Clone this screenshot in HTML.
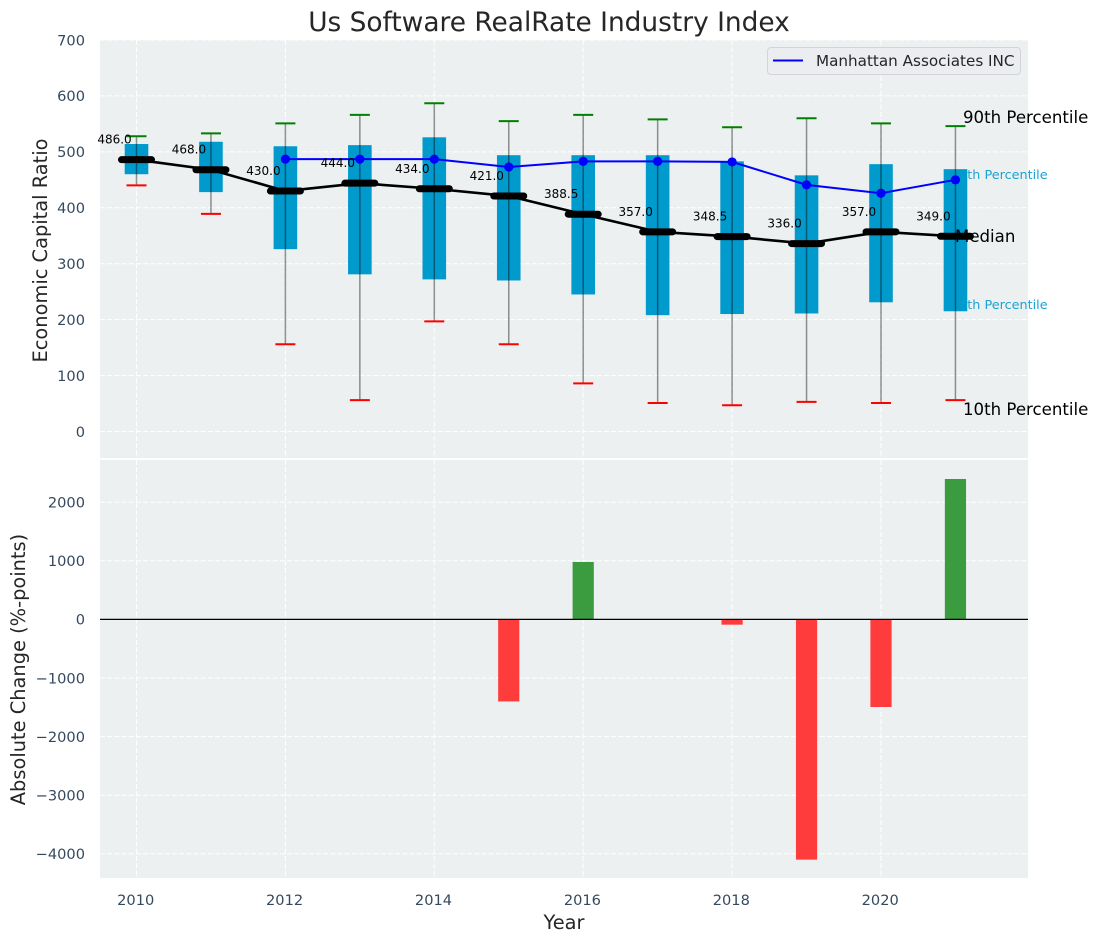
<!DOCTYPE html>
<html>
<head>
<meta charset="utf-8">
<title>Us Software RealRate Industry Index</title>
<style>
html,body{margin:0;padding:0;background:#fff;width:1098px;height:942px;overflow:hidden}
svg{display:block;font-family:"DejaVu Sans","Liberation Sans",sans-serif}
.tick{font-size:14.6px;fill:#34495e}
.axt{font-size:19.4px;fill:#262626}
</style>
</head>
<body>
<svg id="chart" width="1098" height="942" viewBox="0 0 1098 942" xmlns="http://www.w3.org/2000/svg">
  <rect x="0" y="0" width="1098" height="942" fill="#ffffff"/>
  <rect x="100" y="40" width="928" height="418" fill="#ecf0f1"/>
  <rect x="100" y="460" width="928" height="418" fill="#ecf0f1"/>
  <g id="grid"></g>
  <g id="bg-notes">
    <text x="951" y="179" font-size="12.8" fill="#1ba3d1">75th Percentile</text>
    <text x="951" y="309" font-size="12.8" fill="#1ba3d1">25th Percentile</text>
  </g>
  <g id="boxes"></g>
  <g id="whiskers"></g>
  <g id="company"></g>
  <g id="medians"></g>
  <g id="bars"></g>
  <line x1="100" x2="1028" y1="619.4" y2="619.4" stroke="#000" stroke-width="1.3"/>
  <g id="ticks"></g>
  <g>
    <rect x="767.5" y="47.5" width="253" height="27" rx="3.5" fill="#ebedf1" stroke="#d3d4d8" stroke-width="1"/>
    <line x1="773" x2="803" y1="60.5" y2="60.5" stroke="#0000ff" stroke-width="2"/>
    <text x="816" y="65.8" font-size="15.2" fill="#262626">Manhattan Associates INC</text>
  </g>
  <text x="963" y="123" font-size="16.6" fill="#000">90th Percentile</text>
  <text x="955" y="242" font-size="16.6" fill="#000">Median</text>
  <text x="963" y="415" font-size="16.6" fill="#000">10th Percentile</text>
  <text x="549" y="31" text-anchor="middle" font-size="26.4" fill="#262626">Us Software RealRate Industry Index</text>
  <text class="axt" transform="translate(47,250.5) rotate(-90)" text-anchor="middle">Economic Capital Ratio</text>
  <text class="axt" transform="translate(25,669.5) rotate(-90)" text-anchor="middle">Absolute Change (%-points)</text>
  <text class="axt" x="564" y="929" text-anchor="middle">Year</text>
</svg>
<script>
const years = [2010,2011,2012,2013,2014,2015,2016,2017,2018,2019,2020,2021];
const p90 = [528,533,551,566,587,555,566,558,544,560,551,546];
const p75 = [514,518,510,512,526,494,494,494,483,458,478,469];
const median = [486,468,430,444,434,421,388.5,357,348.5,336,357,349];
const p25 = [460,428,326,281,272,270,245,208,210,211,231,215];
const p10 = [440,389,156,56,197,156,86,51,47,53,51,56];
const companyYears = [2012,2013,2014,2015,2016,2017,2018,2019,2020,2021];
const company = [487,487,487,473,483,483,482,441,426,450];
const changeYears = [2015,2016,2018,2019,2020,2021];
const change = [-1400,980,-90,-4100,-1495,2396];
const xTicks = [2010,2012,2014,2016,2018,2020];
const topTicks = [0,100,200,300,400,500,600,700];
const bottomTicks = [-4000,-3000,-2000,-1000,0,1000,2000];

const NS = 'http://www.w3.org/2000/svg';
function xPos(year){ return 136.5 + (year - 2010) * 74.45; }
function yTop(v){ return 431.5 - v * 0.5593; }
function yBottom(v){ return 619.4 - v * 0.0586; }
function mk(parent, tag, attrs, txt){
  const el = document.createElementNS(NS, tag);
  for (const k in attrs) el.setAttribute(k, attrs[k]);
  if (txt !== undefined) el.textContent = txt;
  document.getElementById(parent).appendChild(el);
  return el;
}
function fmtTick(v){ return v < 0 ? '\u2212' + Math.abs(v) : String(v); }
const dash = '5 2.2';

// grid
xTicks.forEach(function(t){
  [[40,458],[460,878]].forEach(function(r){
    const el = mk('grid','line',{x1:xPos(t),x2:xPos(t),y1:r[0],y2:r[1],stroke:'#fff','stroke-width':1,'stroke-dasharray':dash});
    
    
  });
});
topTicks.forEach(function(t){
  const el = mk('grid','line',{x1:100,x2:1028,y1:yTop(t),y2:yTop(t),stroke:'#fff','stroke-width':1,'stroke-dasharray':dash});
  
  
});
bottomTicks.forEach(function(t){
  const el = mk('grid','line',{x1:100,x2:1028,y1:yBottom(t),y2:yBottom(t),stroke:'#fff','stroke-width':1,'stroke-dasharray':dash});
  
  
});

// boxes and whiskers
years.forEach(function(yr, i){
  const x = xPos(yr);
  const box = mk('boxes','rect',{x:x-11.8,width:23.6,y:yTop(p75[i]),height:yTop(p25[i])-yTop(p75[i]),fill:'#009acd'});
  
  
  const w = mk('whiskers','line',{x1:x,x2:x,y1:yTop(p90[i]),y2:yTop(p10[i]),stroke:'#000','stroke-opacity':0.42,'stroke-width':1.5});
  
  
  const c1 = mk('whiskers','line',{x1:x-10,x2:x+10,y1:yTop(p90[i]),y2:yTop(p90[i]),stroke:'#008000','stroke-width':2});
  
  
  const c2 = mk('whiskers','line',{x1:x-10,x2:x+10,y1:yTop(p10[i]),y2:yTop(p10[i]),stroke:'#ff0000','stroke-width':2});
  
  
});

// company line
const cl = mk('company','polyline',{points:companyYears.map(function(y,i){return xPos(y)+','+yTop(company[i]);}).join(' '),fill:'none',stroke:'#0000ff','stroke-width':2});


companyYears.forEach(function(y,i){
  const p = mk('company','circle',{cx:xPos(y),cy:yTop(company[i]),r:4.6,fill:'#0000ff'});
  
  
});

// median line, bars and labels
const ml = mk('medians','polyline',{points:years.map(function(y,i){return xPos(y)+','+yTop(median[i]);}).join(' '),fill:'none',stroke:'#000','stroke-width':2.6});


years.forEach(function(y,i){
  const x = xPos(y), v = yTop(median[i]);
  const m = mk('medians','line',{x1:x-15,x2:x+15,y1:v,y2:v,stroke:'#000','stroke-width':7,'stroke-linecap':'round'});
  
  
  const t = mk('medians','text',{x:x-22,y:v-16,'text-anchor':'middle','font-size':12,fill:'#000'},median[i].toFixed(1));
  
  
});

// change bars
changeYears.forEach(function(y,i){
  const v = change[i], y0 = yBottom(0), y1 = yBottom(v);
  const b = mk('bars','rect',{x:xPos(y)-10.6,width:21.2,y:Math.min(y0,y1),height:Math.abs(y1-y0),fill:v<0?'#ff3c3c':'#3a9c3e'});
  
  
});

// tick labels
xTicks.forEach(function(t){
  const el = mk('ticks','text',{x:xPos(t)-0.8,y:905,'text-anchor':'middle','class':'tick'},String(t));
  
  
});
topTicks.forEach(function(t){
  const el = mk('ticks','text',{x:85,y:yTop(t)+5.3,'text-anchor':'end','class':'tick'},fmtTick(t));
  
  
});
bottomTicks.forEach(function(t){
  const el = mk('ticks','text',{x:85,y:yBottom(t)+5.3,'text-anchor':'end','class':'tick'},fmtTick(t));
  
  
});
</script>
</body>
</html>
